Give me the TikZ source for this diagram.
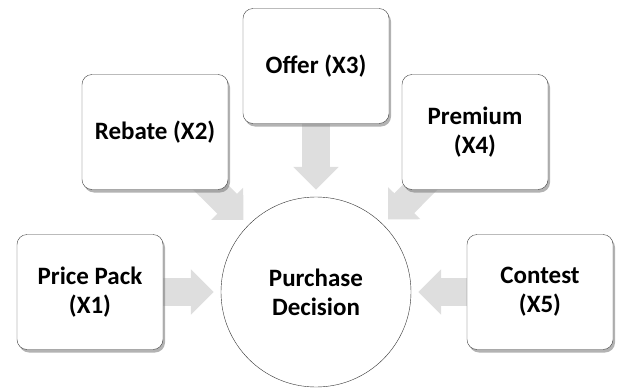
\documentclass[tikz,border=0pt]{standalone}
\usepackage{fontspec}
\setmainfont{Carlito}
\usetikzlibrary{arrows.meta,backgrounds,shadows}

\tikzset{
	factor/.style={draw=black!75, fill=white, rounded corners=10pt,
		minimum width=146pt, minimum height=115pt, align=center,
		font=\bfseries\fontsize{25}{29}\selectfont,
		drop shadow={shadow xshift=2pt, shadow yshift=-3pt, fill=black!50, opacity=0.6}},
	outcome/.style={circle, draw=black!80, fill=white, minimum size=190pt,
		align=center, font=\bfseries\fontsize{25}{29}\selectfont},
	flowarrow/.style={black!13, line width=28pt,
		-{Triangle[length=23pt,width=44pt]}, shorten <=-20pt, shorten >=7pt}
}

\begin{document}
\begin{tikzpicture}[x=1pt,y=-1pt]
	\useasboundingbox (0,0) rectangle (621,388);
	% centre and the five factors
	\node[outcome] (decision) at (316,292) {Purchase\\Decision};
	\node[factor] (pricepack) at (90,292) {Price Pack\\(X1)};
	\node[factor] (rebate) at (155,132) {Rebate (X2)};
	\node[factor] (offer) at (316,66) {Offer (X3)};
	\node[factor] (premium) at (475,132) {Premium\\(X4)};
	\node[factor] (contest) at (540,292) {Contest\\(X5)};
	% block arrows behind the boxes
	\begin{scope}[on background layer]
		\foreach \src in {pricepack,rebate,offer,premium,contest}
			\draw[flowarrow] (\src) -- (decision);
	\end{scope}
\end{tikzpicture}
\end{document}
